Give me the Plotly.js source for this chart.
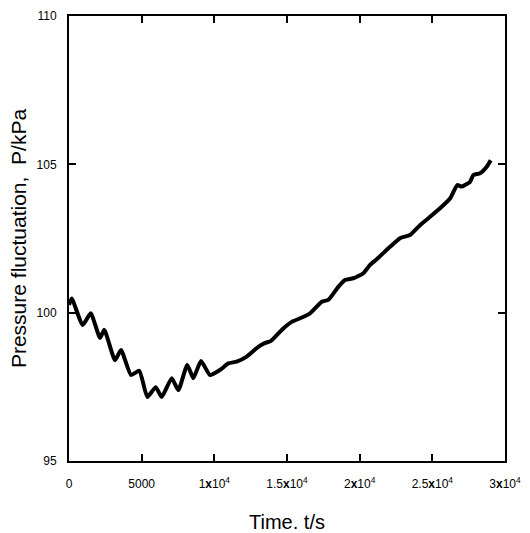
<!DOCTYPE html>
<html>
<head>
<meta charset="utf-8">
<script src="https://cdn.plot.ly/plotly-3.0.1.min.js"></script>
<style>html,body{margin:0;padding:0;background:#fff;}#chart{width:530px;height:533px;}</style>
</head>
<body>
<div id="chart"></div>
<script>
const timeS = [0, 186, 943, 1493, 2133, 2429, 3165, 3578, 4266, 4837, 5388, 5966, 6379, 7067, 7521, 8140, 8553, 9083, 9702, 10390, 10962, 11540, 12228, 13026, 13500, 13900, 14746, 15324, 15896, 16584, 17389, 17843, 18531, 18992, 19563, 20251, 20712, 21173, 22088, 22776, 23464, 24152, 24841, 25529, 26217, 26719, 27022, 27593, 27820, 28281, 28742, 29017];
const pressure = [100.26, 100.48, 99.58, 99.98, 99.15, 99.42, 98.40, 98.74, 97.90, 98.04, 97.16, 97.49, 97.16, 97.79, 97.39, 98.24, 97.79, 98.37, 97.90, 98.07, 98.29, 98.35, 98.52, 98.85, 98.98, 99.05, 99.47, 99.69, 99.81, 99.98, 100.37, 100.43, 100.87, 101.10, 101.16, 101.33, 101.61, 101.80, 102.22, 102.51, 102.62, 102.95, 103.23, 103.52, 103.85, 104.30, 104.25, 104.41, 104.64, 104.70, 104.92, 105.14];
const xTickVals = [0, 5000, 10000, 15000, 20000, 25000, 30000];
const xTickText = ['0', '5000', '1<b>x</b>10<sup>4</sup>', '1.5<b>x</b>10<sup>4</sup>', '2<b>x</b>10<sup>4</sup>', '2.5<b>x</b>10<sup>4</sup>', '3<b>x</b>10<sup>4</sup>'];
const yTickVals = [95, 100, 105, 110];

const font = 'Arial, "Liberation Sans", sans-serif';
Plotly.newPlot('chart', [{
  x: timeS, y: pressure, type: 'scatter', mode: 'lines',
  line: {color: '#000', width: 4, shape: 'spline', smoothing: 0.5}
}], {
  width: 530, height: 533,
  margin: {l: 69, r: 25, t: 16, b: 72},
  paper_bgcolor: '#fff', plot_bgcolor: '#fff',
  showlegend: false,
  font: {family: font, color: '#000'},
  xaxis: {
    range: [0, 30000], tickvals: xTickVals, ticktext: xTickText,
    ticks: 'inside', ticklen: 7, tickwidth: 2, tickcolor: '#000',
    showline: true, linewidth: 2, linecolor: '#000', mirror: 'ticks',
    showgrid: false, zeroline: false,
    tickfont: {size: 12, family: font}, ticklabelstandoff: 11,
    title: {text: 'Time. t/s', font: {size: 20, family: font}, standoff: 28}
  },
  yaxis: {
    range: [95, 110], tickvals: yTickVals,
    ticks: 'inside', ticklen: 7, tickwidth: 2, tickcolor: '#000',
    showline: true, linewidth: 2, linecolor: '#000', mirror: 'ticks',
    showgrid: false, zeroline: false,
    tickfont: {size: 12, family: font}, ticklabelstandoff: 8,
    title: {text: 'Pressure fluctuation,  P/kPa', font: {size: 21, family: font}, standoff: 4}
  }
}, {displayModeBar: false, staticPlot: true});
</script>
</body>
</html>
